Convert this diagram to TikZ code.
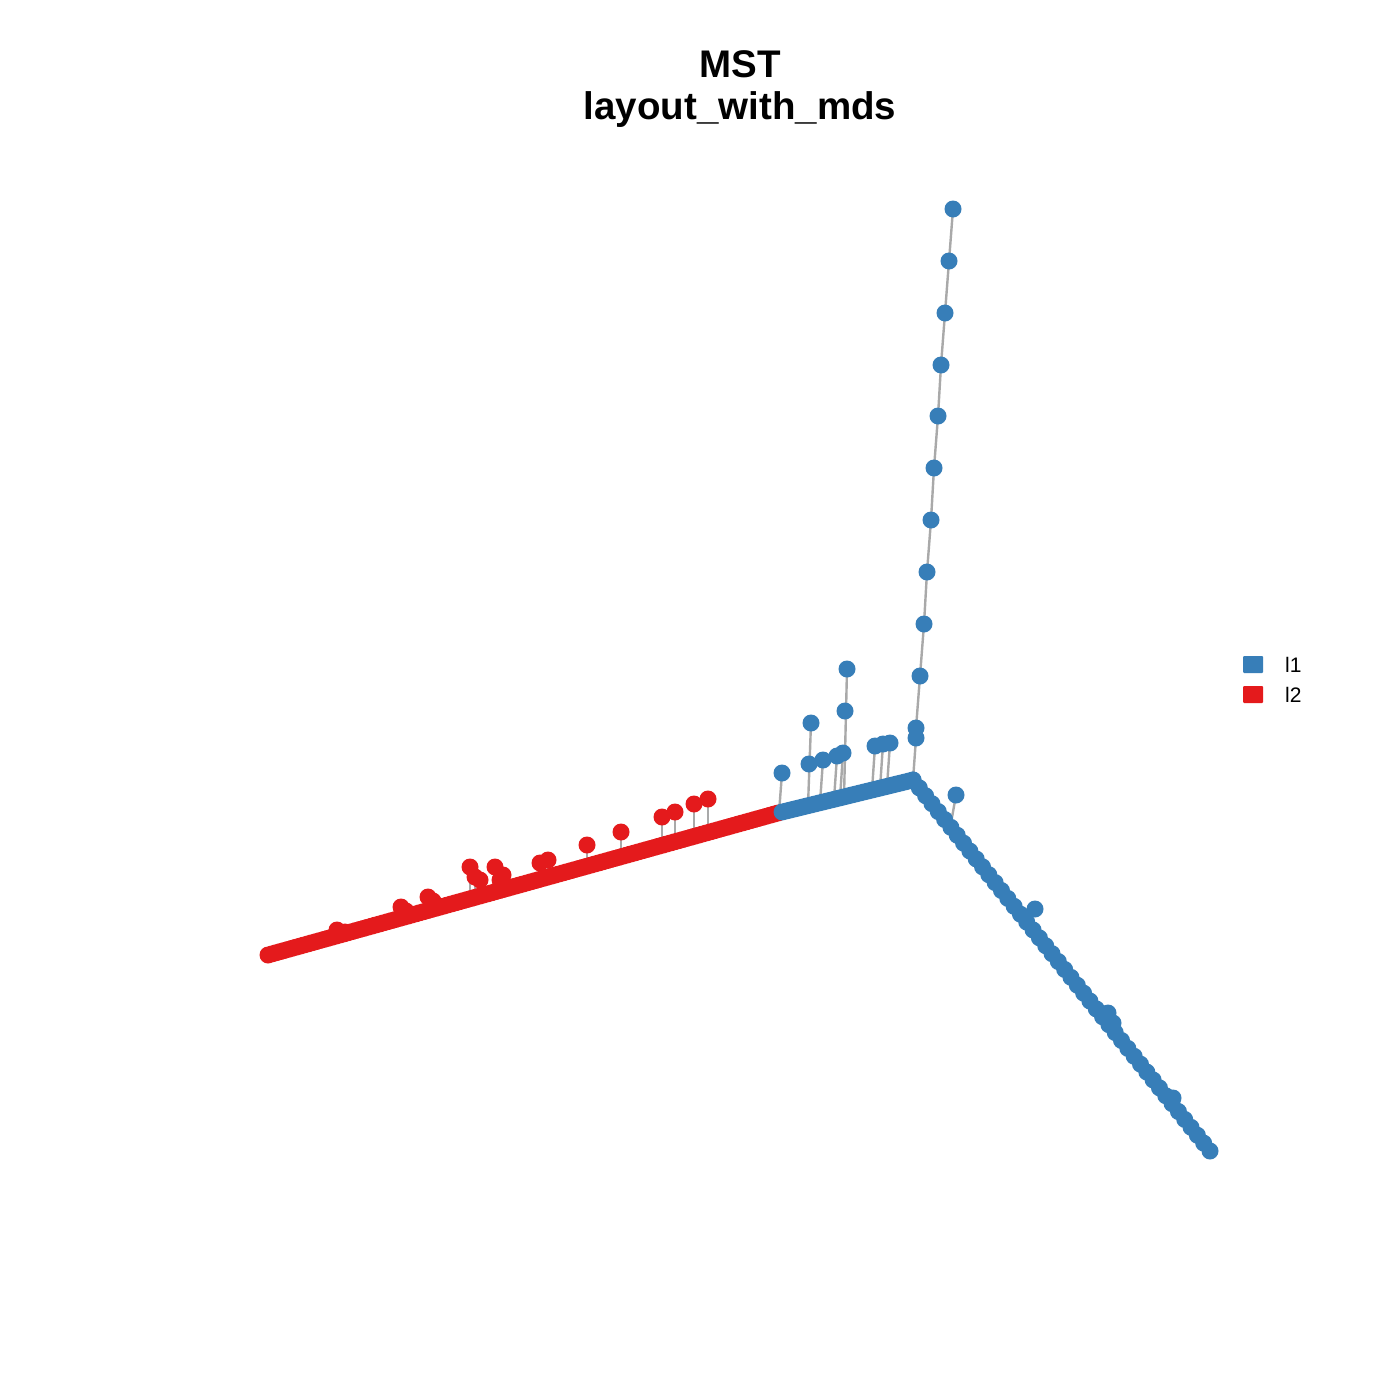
\documentclass[tikz,border=0pt]{standalone}
\usepackage{fontspec}
\setmainfont{Liberation Sans}
\usetikzlibrary{calc}
\begin{document}
\begin{tikzpicture}[x=1pt,y=-1pt]
\definecolor{cblue}{HTML}{377EB8}
\definecolor{cred}{HTML}{E41A1C}
\definecolor{cedge}{HTML}{A9A9A9}
\tikzset{
  edge/.style={draw=cedge,line width=2.4pt},
  bdot/.style={fill=cblue},
  rdot/.style={fill=cred},
  legtext/.style={anchor=west,inner sep=0pt,font=\fontsize{21}{25}\selectfont},
  titletext/.style={align=center,inner sep=0pt,font=\bfseries\fontsize{38.5}{42}\selectfont}
}
\def\R{8.5}
\useasboundingbox (0,0) rectangle (1400,1400);
\fill[white] (0,0) rectangle (1400,1400);
% title
\node[titletext,anchor=base] (t1) at (740,77) {MST};
\node[titletext,anchor=base] (t2) at (740,119) {layout\_with\_mds};
% junction coordinates
\coordinate (J) at (913,780);
\coordinate (RB) at (778,813);
\coordinate (L) at (268,955);
\coordinate (E) at (1210,1151);
% upper branch edges
\draw[edge] (953,209) -- (949,261) -- (945,313) -- (941,365) -- (938,416) -- (934,468)
  -- (931,520) -- (927,572) -- (924,624) -- (920,676) -- (916,728) -- (916,738) -- (J);
% blue spike stems
\foreach \x/\y in {782/773,811/723,823/760,837/756,843/753,847/669,875/746,883/744,890/743}{
  \draw[edge] (\x,\y) -- ({\x-3},{813-0.2424*(\x-3-778)});
}
\draw[edge] (956,795) -- (951,823);
% red spike stems
\foreach \x/\y in {708/799,694/804,675/812,662/817,621/832,587/845,548/860,540/863,503/875,495/867,480/880,470/867,475/877,428/897,401/907}{
  \draw[edge] (\x,\y) -- (\x,{955-0.2784*(\x-268)});
}
% main branches (dense dots)
\foreach \t in {0,1,...,128}{
  \fill[rdot] ($(L)!\t/128!(RB)$) circle (\R);
}
\foreach \t in {1,2,...,33}{
  \fill[bdot] ($(RB)!\t/33!(J)$) circle (\R);
}
\foreach \t in {0,1,...,47}{
  \fill[bdot] ($(J)!\t/47!(E)$) circle (\R);
}
% extra blobs on lower branch
\foreach \x/\y in {1035/909,1108/1013,1113/1023,1173/1098}{
  \fill[bdot] (\x,\y) circle (\R);
}
% upper branch dots
\foreach \x/\y in {953/209,949/261,945/313,941/365,938/416,934/468,931/520,927/572,924/624,920/676,916/728,916/738}{
  \fill[bdot] (\x,\y) circle (\R);
}
% blue spike dots
\foreach \x/\y in {782/773,811/723,809/764,823/760,837/756,843/753,847/669,845/711,875/746,883/744,890/743,956/795}{
  \fill[bdot] (\x,\y) circle (\R);
}
% red spike dots
\foreach \x/\y in {708/799,694/804,675/812,662/817,621/832,587/845,548/860,540/863,503/875,495/867,500/880,480/880,470/867,475/877,428/897,433/901,401/907,406/911,337/930,345/932}{
  \fill[rdot] (\x,\y) circle (\R);
}
% legend
\fill[cblue,rounded corners=1pt] (1243,656) rectangle (1263,673);
\fill[cred,rounded corners=1pt] (1243,686) rectangle (1263,703);
\node[legtext] (l1) at (1285,665) {l1};
\node[legtext] (l2) at (1285,695) {l2};
\end{tikzpicture}
\end{document}
